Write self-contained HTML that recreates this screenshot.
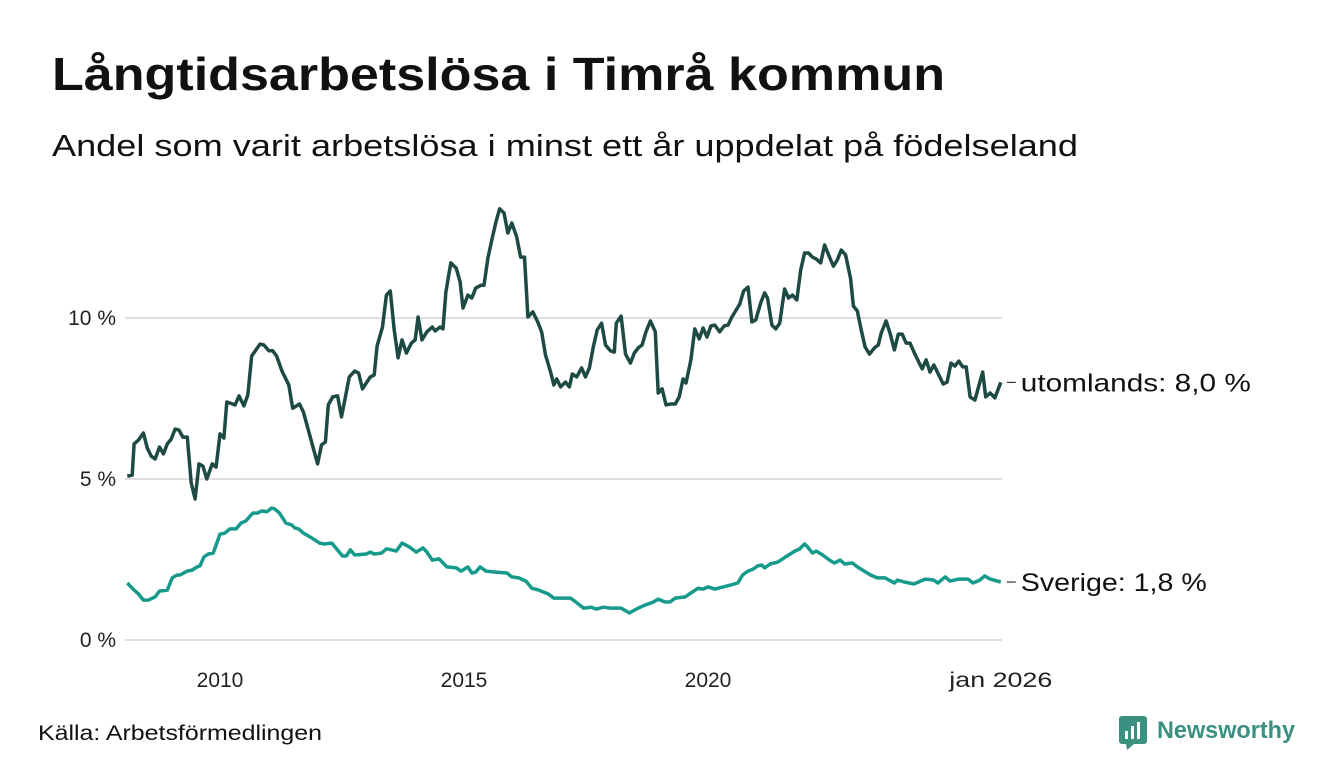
<!DOCTYPE html>
<html><head><meta charset="utf-8"><style>
body{margin:0;background:#fff;font-family:"Liberation Sans","DejaVu Sans",sans-serif;}
svg{display:block}
</style></head><body>
<svg width="1340" height="780">
<text x="52" y="90" font-size="46" font-weight="bold" fill="#111" textLength="893" lengthAdjust="spacingAndGlyphs">Långtidsarbetslösa i Timrå kommun</text>
<text x="52" y="156" font-size="31" fill="#111" textLength="1026" lengthAdjust="spacingAndGlyphs">Andel som varit arbetslösa i minst ett år uppdelat på födelseland</text>
<g id="grid"></g>
<g id="lines"></g>
<text x="38" y="740" font-size="21" fill="#111" textLength="284" lengthAdjust="spacingAndGlyphs">Källa: Arbetsförmedlingen</text>
<g>
<rect x="1119" y="716" width="28" height="28" rx="3" fill="#3a9181"/>
<rect x="1125" y="731" width="3" height="8" fill="#fff"/><rect x="1131" y="726" width="3" height="13" fill="#fff"/><rect x="1137" y="722" width="3" height="17" fill="#fff"/>
<polygon points="1126,744 1134,744 1127,750" fill="#3a9181"/>
<text x="1157" y="738" font-size="24" font-weight="bold" fill="#3a9181" textLength="138" lengthAdjust="spacingAndGlyphs">Newsworthy</text>
</g>
</svg>
<script>
const yTicks=[0,5,10];
const yTickLabels=["0 %","5 %","10 %"];
const xTicks=[2010,2015,2020,2026];
const xTickLabels=["2010","2015","2020","jan 2026"];
const utoDates=[2008.10,2008.20,2008.24,2008.33,2008.43,2008.51,2008.59,2008.67,2008.76,2008.84,2008.92,2009.00,2009.08,2009.16,2009.24,2009.33,2009.41,2009.49,2009.57,2009.65,2009.73,2009.84,2009.92,2010.00,2010.08,2010.14,2010.31,2010.39,2010.49,2010.57,2010.65,2010.82,2010.90,2011.00,2011.08,2011.16,2011.27,2011.41,2011.49,2011.63,2011.71,2012.00,2012.08,2012.16,2012.22,2012.31,2012.41,2012.49,2012.65,2012.76,2012.84,2012.92,2013.08,2013.16,2013.22,2013.33,2013.41,2013.49,2013.57,2013.65,2013.73,2013.82,2013.92,2014.00,2014.06,2014.14,2014.24,2014.35,2014.41,2014.51,2014.57,2014.63,2014.73,2014.84,2014.92,2014.98,2015.08,2015.16,2015.24,2015.35,2015.41,2015.49,2015.57,2015.65,2015.73,2015.82,2015.90,2015.98,2016.08,2016.16,2016.24,2016.31,2016.41,2016.51,2016.59,2016.67,2016.78,2016.84,2016.90,2016.98,2017.08,2017.16,2017.22,2017.31,2017.41,2017.49,2017.57,2017.65,2017.73,2017.82,2017.90,2018.00,2018.08,2018.12,2018.22,2018.31,2018.41,2018.49,2018.57,2018.65,2018.73,2018.82,2018.92,2018.98,2019.06,2019.14,2019.24,2019.33,2019.41,2019.49,2019.55,2019.65,2019.73,2019.82,2019.90,2019.98,2020.06,2020.14,2020.24,2020.33,2020.41,2020.49,2020.65,2020.73,2020.82,2020.90,2020.98,2021.08,2021.16,2021.22,2021.31,2021.39,2021.47,2021.57,2021.65,2021.73,2021.82,2021.90,2021.98,2022.06,2022.14,2022.22,2022.31,2022.39,2022.49,2022.57,2022.65,2022.73,2022.82,2022.92,2022.98,2023.06,2023.14,2023.22,2023.31,2023.41,2023.49,2023.55,2023.65,2023.73,2023.82,2023.90,2023.98,2024.06,2024.14,2024.24,2024.33,2024.39,2024.47,2024.55,2024.63,2024.73,2024.82,2024.90,2024.98,2025.06,2025.14,2025.22,2025.29,2025.37,2025.47,2025.55,2025.63,2025.69,2025.78,2025.88,2026.0];
const utoValues=[5.09,5.12,6.09,6.21,6.43,5.96,5.71,5.62,5.99,5.78,6.09,6.24,6.55,6.52,6.30,6.30,4.88,4.38,5.47,5.40,5.00,5.47,5.37,6.40,6.27,7.39,7.30,7.58,7.27,7.61,8.82,9.19,9.16,8.98,8.98,8.82,8.35,7.92,7.20,7.33,7.08,5.47,6.06,6.15,7.30,7.55,7.58,6.93,8.17,8.35,8.29,7.80,8.17,8.23,9.13,9.72,10.71,10.84,9.63,8.76,9.32,8.91,9.22,9.32,10.03,9.32,9.57,9.72,9.60,9.72,9.66,10.81,11.71,11.55,11.12,10.31,10.71,10.62,10.93,11.02,11.02,11.86,12.42,12.95,13.39,13.26,12.64,12.95,12.52,11.89,11.89,10.03,10.19,9.88,9.57,8.85,8.29,7.92,8.11,7.86,8.01,7.86,8.26,8.17,8.45,8.17,8.45,9.10,9.63,9.84,9.16,8.98,8.94,9.84,10.06,8.88,8.60,8.91,9.07,9.16,9.57,9.91,9.57,7.67,7.80,7.30,7.33,7.33,7.55,8.11,7.98,8.70,9.66,9.35,9.69,9.41,9.75,9.78,9.57,9.75,9.78,10.03,10.43,10.84,10.96,9.88,9.94,10.47,10.78,10.62,9.78,9.66,9.84,10.90,10.62,10.71,10.56,11.49,12.02,12.02,11.89,11.83,11.71,12.27,11.89,11.61,11.80,12.11,11.96,11.24,10.37,10.22,9.63,9.10,8.88,9.07,9.16,9.53,9.91,9.53,9.01,9.50,9.50,9.22,9.22,8.88,8.60,8.42,8.70,8.32,8.54,8.23,7.95,8.01,8.60,8.51,8.66,8.48,8.48,7.55,7.45,7.89,8.32,7.55,7.67,7.52,8.0];
const sweDates=[2008.10,2008.22,2008.33,2008.43,2008.53,2008.67,2008.76,2008.92,2009.02,2009.12,2009.18,2009.33,2009.43,2009.53,2009.59,2009.67,2009.76,2009.86,2010.00,2010.10,2010.20,2010.33,2010.43,2010.53,2010.67,2010.76,2010.86,2010.96,2011.06,2011.12,2011.22,2011.35,2011.47,2011.53,2011.61,2011.71,2011.88,2012.04,2012.14,2012.29,2012.39,2012.51,2012.59,2012.67,2012.76,2013.00,2013.08,2013.16,2013.31,2013.41,2013.51,2013.61,2013.73,2013.88,2014.02,2014.16,2014.24,2014.35,2014.49,2014.65,2014.84,2014.94,2015.08,2015.16,2015.24,2015.33,2015.45,2015.65,2015.88,2015.98,2016.12,2016.27,2016.39,2016.53,2016.73,2016.84,2017.04,2017.18,2017.29,2017.45,2017.61,2017.71,2017.86,2018.00,2018.22,2018.39,2018.53,2018.67,2018.88,2018.98,2019.12,2019.22,2019.33,2019.53,2019.65,2019.80,2019.90,2020.00,2020.14,2020.31,2020.47,2020.61,2020.71,2020.82,2020.92,2021.02,2021.10,2021.16,2021.27,2021.43,2021.59,2021.78,2021.88,2021.98,2022.04,2022.14,2022.22,2022.35,2022.49,2022.59,2022.71,2022.80,2022.96,2023.06,2023.20,2023.33,2023.47,2023.63,2023.82,2023.88,2024.02,2024.22,2024.45,2024.63,2024.71,2024.86,2024.96,2025.14,2025.33,2025.43,2025.57,2025.67,2025.78,2026.0];
const sweValues=[1.77,1.58,1.43,1.24,1.24,1.34,1.52,1.55,1.93,2.02,2.02,2.14,2.17,2.27,2.30,2.58,2.67,2.70,3.29,3.32,3.45,3.45,3.63,3.70,3.94,3.94,4.01,3.98,4.10,4.07,3.94,3.63,3.57,3.48,3.45,3.32,3.17,3.01,2.98,3.01,2.83,2.61,2.61,2.80,2.64,2.67,2.73,2.67,2.70,2.83,2.80,2.76,3.01,2.89,2.73,2.86,2.73,2.48,2.52,2.27,2.24,2.14,2.27,2.08,2.11,2.27,2.14,2.11,2.08,1.96,1.93,1.83,1.61,1.55,1.43,1.30,1.30,1.30,1.18,0.99,1.02,0.96,1.02,0.99,0.99,0.84,0.96,1.06,1.18,1.27,1.18,1.18,1.30,1.34,1.46,1.61,1.58,1.65,1.58,1.65,1.71,1.77,2.02,2.14,2.20,2.30,2.33,2.24,2.36,2.42,2.58,2.76,2.83,2.98,2.89,2.70,2.76,2.64,2.48,2.39,2.48,2.36,2.39,2.27,2.14,2.02,1.93,1.93,1.77,1.86,1.80,1.74,1.89,1.86,1.77,1.96,1.83,1.89,1.89,1.77,1.86,1.99,1.89,1.8];
const seriesLabels=["utomlands: 8,0 %","Sverige: 1,8 %"];
const labelWidths=[230,186];

const NS="http://www.w3.org/2000/svg";
const xs=d=>220+(d-2010)*48.8;
const ys=v=>640-v*32.2;
const grid=document.getElementById('grid');
const lines=document.getElementById('lines');
function mk(tag,attrs,parent){const e=document.createElementNS(NS,tag);for(const k in attrs)e.setAttribute(k,attrs[k]);parent.appendChild(e);return e;}
yTicks.forEach((t,i)=>{
  const l=mk('line',{x1:125,x2:1002,y1:ys(t),y2:ys(t),stroke:'#dedde3','stroke-width':2},grid);
  
  
  const tx=mk('text',{x:116,y:ys(t)+7,'font-size':21,'text-anchor':'end',fill:'#222'},grid);
  tx.textContent=yTickLabels[i];
  
  
});
xTicks.forEach((t,i)=>{
  const tx=mk('text',{x:xs(t),y:687,'font-size':21,'text-anchor':'middle',fill:'#222'},grid);
  tx.textContent=xTickLabels[i];
  if(i===xTicks.length-1){tx.setAttribute('textLength',103);tx.setAttribute('lengthAdjust','spacingAndGlyphs');}
  
  
});
function drawLine(dates,vals,color,name,label,w){
  const d=dates.map((x,i)=>(i?'L':'M')+xs(x).toFixed(1)+','+ys(vals[i]).toFixed(1)).join('');
  const p=mk('path',{d:d,fill:'none',stroke:color,'stroke-width':3.5,'stroke-linejoin':'round'},lines);
  
  
  const lx=xs(dates[dates.length-1]), ly=ys(vals[vals.length-1]);
  mk('line',{x1:lx+6,x2:lx+15,y1:ly,y2:ly,stroke:'#333','stroke-width':1.2},lines);
  const t=mk('text',{x:lx+20,y:ly+9,'font-size':25,fill:'#111',textLength:w,lengthAdjust:'spacingAndGlyphs'},lines);
  t.textContent=label;
  
  
}
drawLine(sweDates,sweValues,'#169a8b','sverige-line',seriesLabels[1],labelWidths[1]);
drawLine(utoDates,utoValues,'#1e4a44','utomlands-line',seriesLabels[0],labelWidths[0]);
</script>
</body></html>
